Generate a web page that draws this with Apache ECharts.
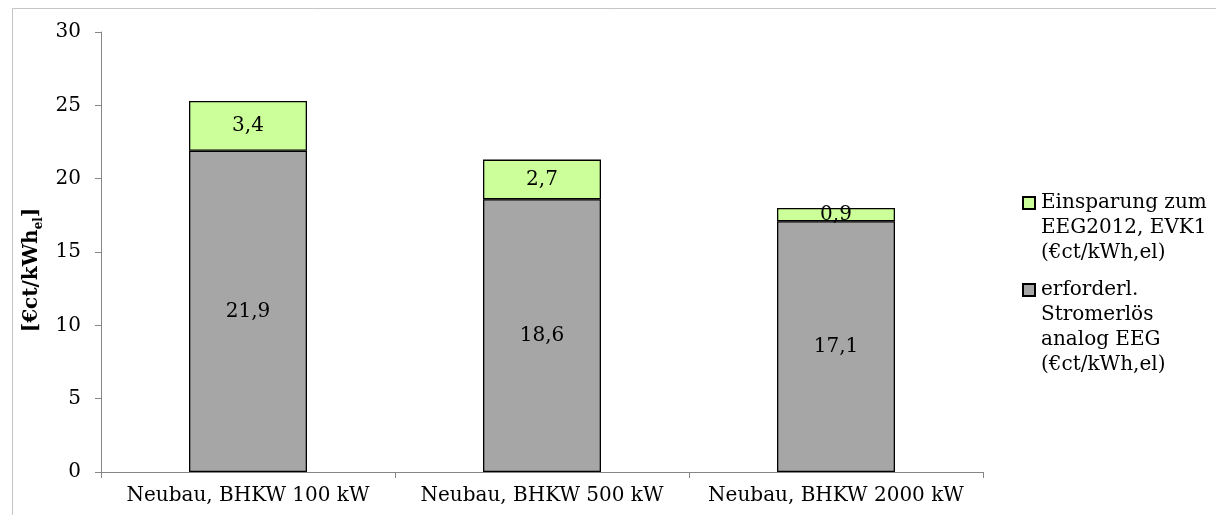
<!DOCTYPE html>
<html>
<head>
<meta charset="utf-8">
<script src="https://cdn.jsdelivr.net/npm/echarts@6/dist/echarts.min.js"></script>
<style>
html,body{margin:0;padding:0;background:#fff;}
#c{width:1216px;height:515px;}
</style>
</head>
<body>
<div id="c"></div>
<script>
const categories = ['Neubau, BHKW 100 kW', 'Neubau, BHKW 500 kW', 'Neubau, BHKW 2000 kW'];
const stromerloes = [21.9, 18.6, 17.1];
const einsparung = [3.4, 2.7, 0.9];
const yTicks = [0, 5, 10, 15, 20, 25, 30];
const nameEinsparung = 'Einsparung zum\nEEG2012, EVK1\n(€ct/kWh,el)';
const nameStrom = 'erforderl.\nStromerlös\nanalog EEG\n(€ct/kWh,el)';

const FONT = 'DejaVu Serif';
const FS = 20;
const LH = 25;

const chart = echarts.init(document.getElementById('c'), null, {renderer: 'canvas'});
const fmt = p => String(p.value).replace('.', ',');
// push the text block down so its first line sits level with the icon
const legendFmt = name => '\n'.repeat(name.split('\n').length - 1) + name;
const legendBase = {
  orient: 'vertical', left: 1022, padding: 0, icon: 'rect',
  itemWidth: 12, itemHeight: 12, itemGap: 0,
  selectedMode: false, formatter: legendFmt,
  textStyle: {fontFamily: FONT, fontSize: FS, color: '#000', lineHeight: LH, padding: [0, 0, 0, 1]}
};
chart.setOption({
  animation: false,
  textStyle: {fontFamily: FONT},
  graphic: [{
    type: 'rect', left: 10, top: 6, z: -10,
    shape: {width: 1300, height: 600},
    style: {fill: 'none', stroke: '#c4c4c4', lineWidth: 1}
  }],
  grid: {left: 101, right: 233, top: 32, bottom: 43, containLabel: false},
  legend: [
    Object.assign({}, legendBase, {top: 203 - 5 * LH / 2, data: [nameEinsparung]}),
    Object.assign({}, legendBase, {top: 290 - 7 * LH / 2, data: [nameStrom]})
  ],
  xAxis: {
    type: 'category', data: categories,
    axisLine: {lineStyle: {color: '#868686', width: 1}},
    axisTick: {show: true, alignWithLabel: false, length: 6, lineStyle: {color: '#868686'}},
    axisLabel: {color: '#000', fontSize: FS, fontFamily: FONT, margin: 14, interval: 0}
  },
  yAxis: {
    type: 'value', min: yTicks[0], max: yTicks[yTicks.length - 1], interval: 5,
    name: '{a|[€ct/kWh}{s|el}{a|]}',
    nameLocation: 'middle', nameRotate: 90, nameGap: 50,
    nameTextStyle: {
      padding: [0, 36, 0, 0],
      rich: {
        a: {fontFamily: FONT, fontSize: FS, fontWeight: 'bold', color: '#000', lineHeight: 26},
        s: {fontFamily: FONT, fontSize: 12, fontWeight: 'bold', color: '#000', lineHeight: 26, verticalAlign: 'bottom', padding: [10, 0, 0, 0]}
      }
    },
    axisLine: {show: true, lineStyle: {color: '#868686', width: 1}},
    axisTick: {show: true, length: 6, lineStyle: {color: '#868686'}},
    splitLine: {show: false},
    axisLabel: {color: '#000', fontSize: FS, fontFamily: FONT, margin: 20}
  },
  series: [{
    name: nameStrom, type: 'bar', stack: 's', data: stromerloes, barWidth: 118,
    itemStyle: {color: '#a6a6a6', borderColor: '#000', borderWidth: 1.3},
    label: {show: true, position: 'inside', color: '#000', fontSize: FS, fontFamily: FONT, formatter: fmt}
  }, {
    name: nameEinsparung, type: 'bar', stack: 's', data: einsparung, barWidth: 118,
    itemStyle: {color: '#ccff99', borderColor: '#000', borderWidth: 1.3},
    label: {show: true, position: 'inside', color: '#000', fontSize: FS, fontFamily: FONT, formatter: fmt}
  }]
});
</script>
</body>
</html>
